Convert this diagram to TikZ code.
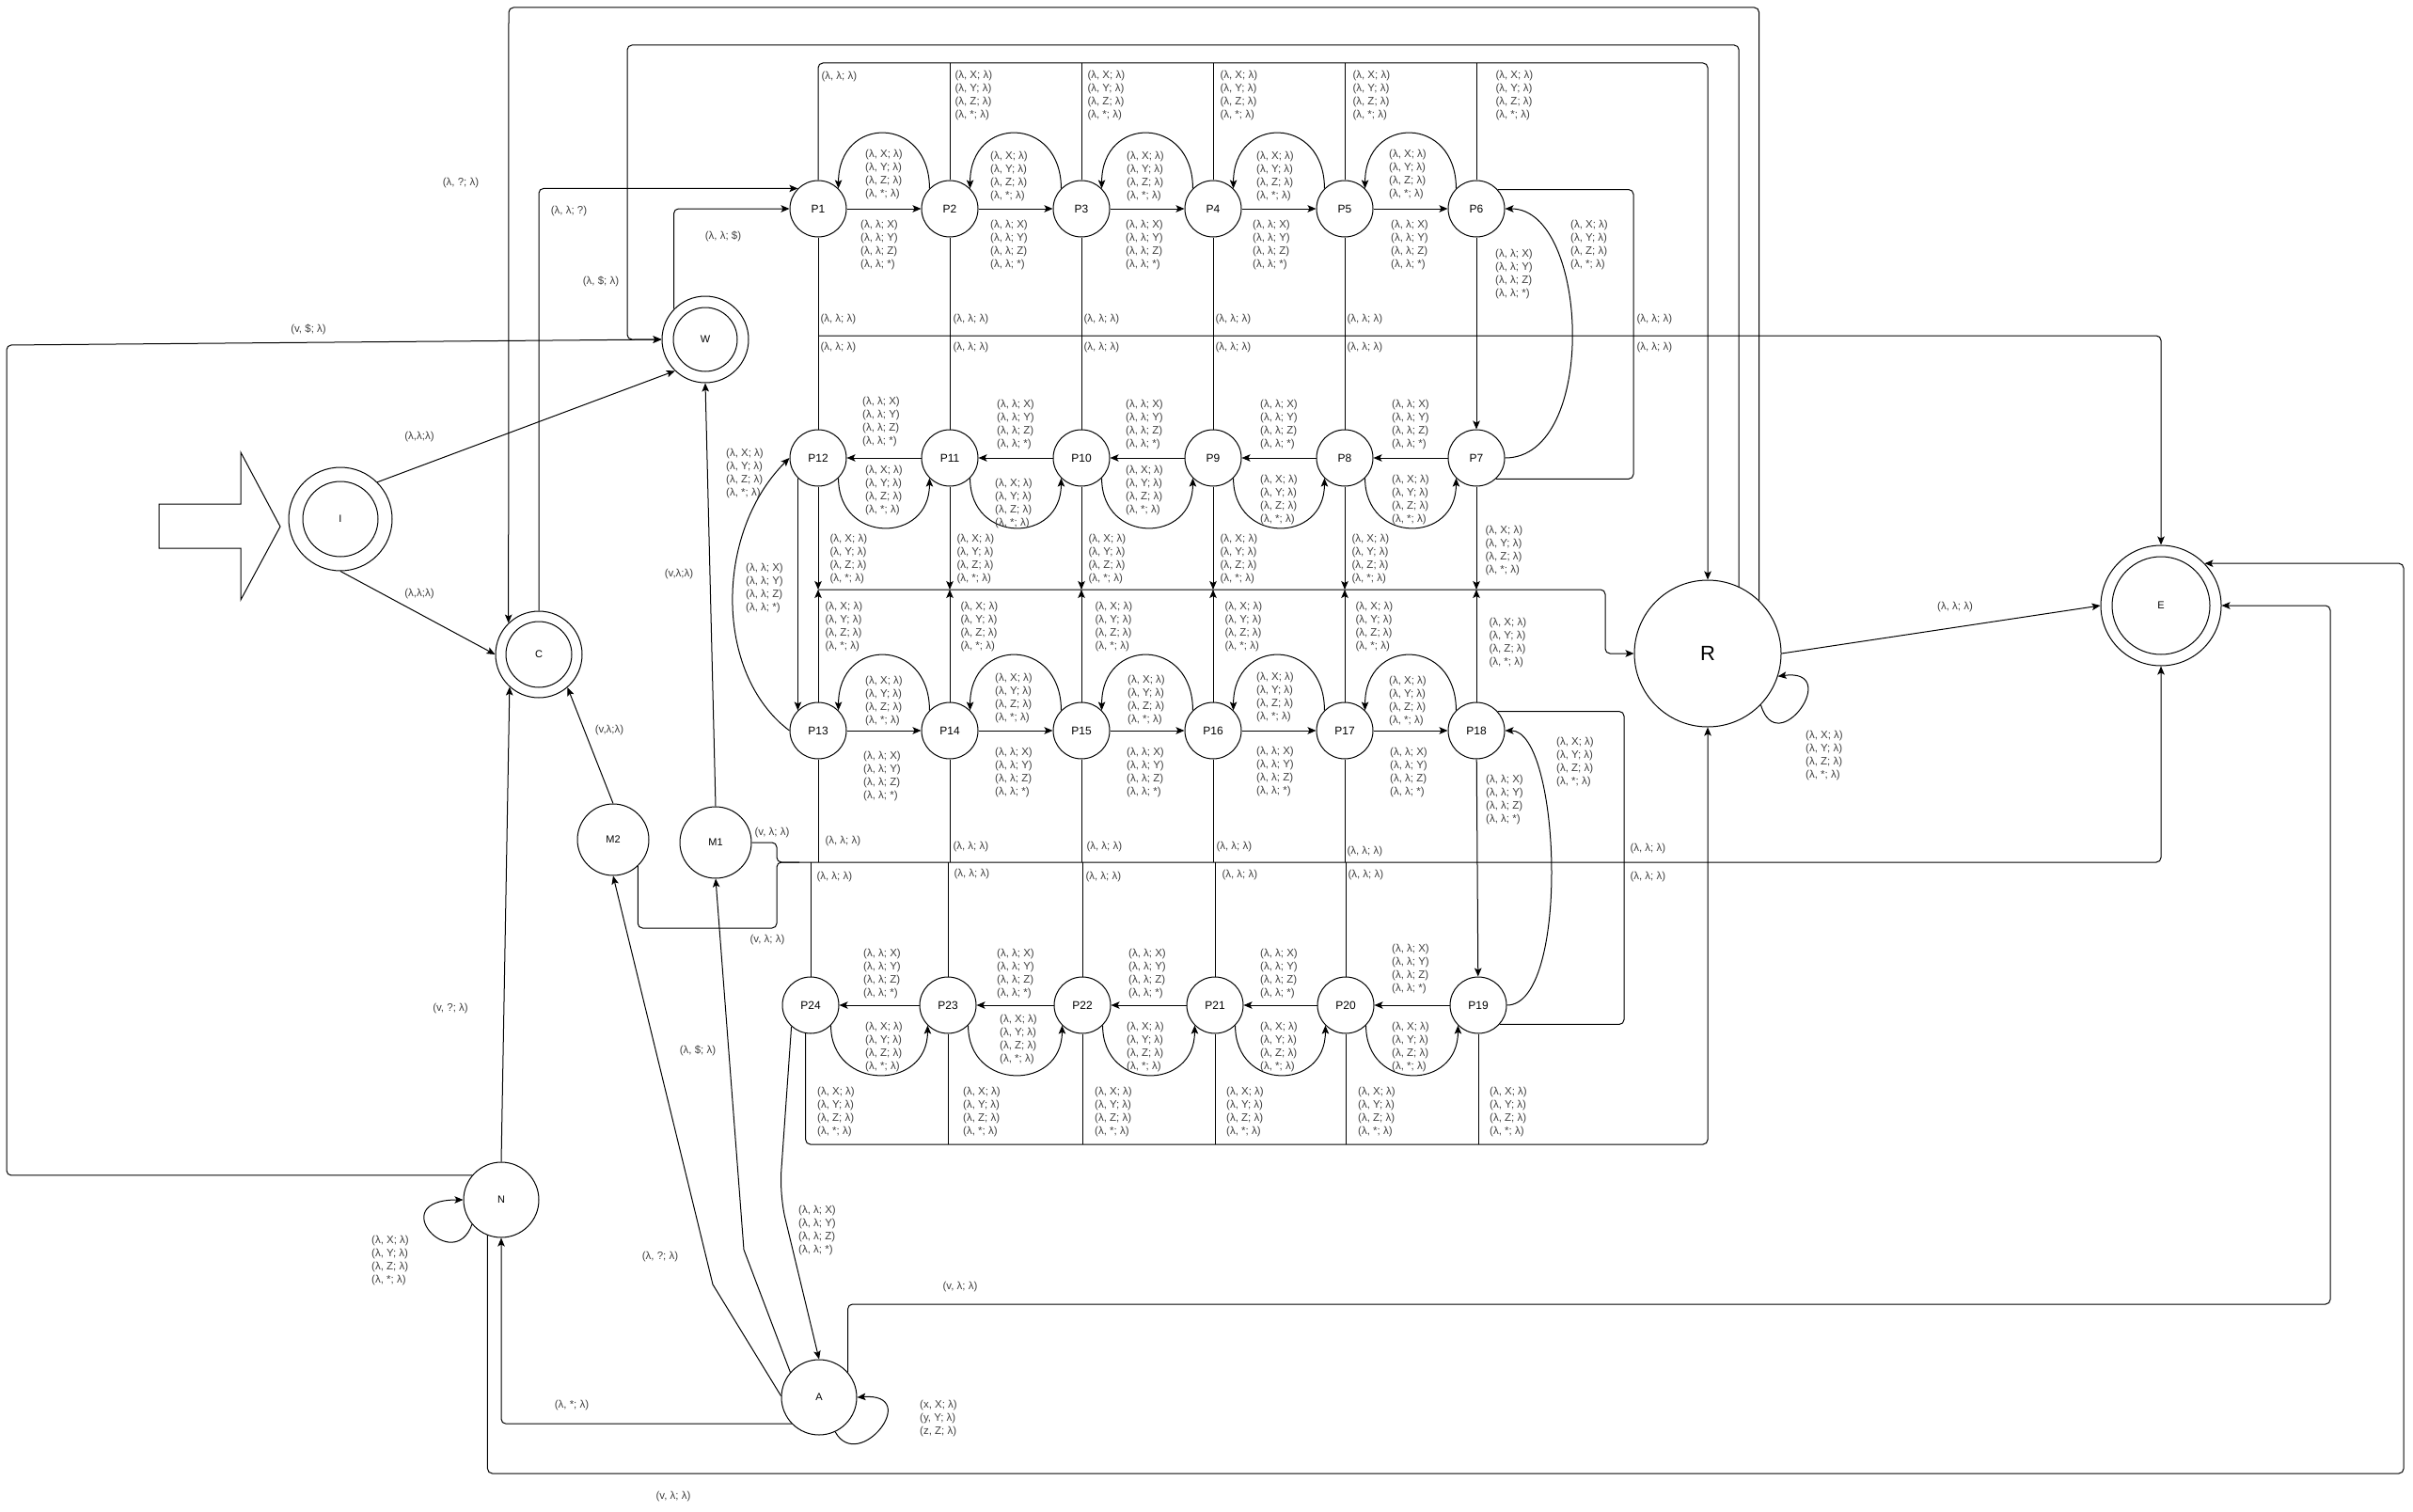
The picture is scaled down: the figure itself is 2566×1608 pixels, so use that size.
\documentclass[tikz,border=0pt]{standalone}
\usepackage{fontspec}
\setmainfont{Liberation Sans}
\usetikzlibrary{arrows.meta}
\newcommand\popL{(λ, X; λ)\\(λ, Y; λ)\\(λ, Z; λ)\\(λ, *; λ)}
\newcommand\pushL{(λ, λ; X)\\(λ, λ; Y)\\(λ, λ; Z)\\(λ, λ; *)}
\newcommand\lamL{(λ, λ; λ)}
\begin{document}
\begin{tikzpicture}[x=1pt,y=-1pt,line width=1pt,
  ar/.style={-{Stealth[length=9pt,width=7.5pt,inset=2pt]}},
  pn/.style={circle,draw,minimum size=60pt,inner sep=0pt,font=\fontsize{12}{14}\selectfont},
  sn/.style={circle,draw,inner sep=0pt,font=\fontsize{11}{13}\selectfont},
  lb/.style={font=\fontsize{11.5}{14}\selectfont,text=black!75,align=left,inner sep=0pt},
  rc/.style={rounded corners=5pt}]
\fill[white] (0,0) rectangle (2566,1608);
\useasboundingbox (0,0) rectangle (2566,1608);

% ---------- P nodes ----------
\foreach \n/\x in {P1/870,P2/1010,P3/1150,P4/1290,P5/1430,P6/1570} \node[pn] (\n) at (\x,222) {\n};
\foreach \n/\x in {P12/870,P11/1010,P10/1150,P9/1290,P8/1430,P7/1570} \node[pn] (\n) at (\x,487) {\n};
\foreach \n/\x in {P13/870,P14/1010,P15/1150,P16/1290,P17/1430,P18/1570} \node[pn] (\n) at (\x,777) {\n};
\foreach \n/\x in {P24/862,P23/1008,P22/1151,P21/1292,P20/1431,P19/1572} \node[pn] (\n) at (\x,1069) {\n};

% ---------- other states ----------
\node[circle,draw,minimum size=156pt,inner sep=0pt,font=\fontsize{22}{24}\selectfont] (R) at (1816,695) {R};
\node[sn,minimum size=128pt] (E) at (2298,644) {E};
\draw (E) circle[radius=52pt];
\node[sn,minimum size=92pt] (W) at (750,361) {W};
\draw (W) circle[radius=34pt];
\node[sn,minimum size=92pt] (C) at (573,696) {C};
\draw (C) circle[radius=35pt];
\node[sn,minimum size=110pt] (I) at (362,552) {I};
\draw (I) circle[radius=40pt];
\node[sn,minimum size=80pt] (N) at (533,1276) {N};
\node[sn,minimum size=80pt] (A) at (871,1486) {A};
\node[sn,minimum size=76pt] (M2) at (652,893) {M2};
\node[sn,minimum size=76pt] (M1) at (761,896) {M1};

% start arrow
\draw (169,536) -- (256,536) -- (256,481) -- (298,560) -- (256,638) -- (256,583) -- (169,583) -- cycle;

% ---------- row edges ----------
\foreach \a/\b in {P1/P2,P2/P3,P3/P4,P4/P5,P5/P6,P7/P8,P8/P9,P9/P10,P10/P11,P11/P12,P13/P14,P14/P15,P15/P16,P16/P17,P17/P18,P19/P20,P20/P21,P21/P22,P22/P23,P23/P24}
  \draw[ar] (\a) -- (\b);
\foreach \a/\b in {P2/P1,P3/P2,P4/P3,P5/P4,P6/P5,P14/P13,P15/P14,P16/P15,P17/P16,P18/P17}
  \draw[ar] (\a.135) .. controls +(0,-78) and +(0,-78) .. (\b.45);
\foreach \a/\b in {P12/P11,P11/P10,P10/P9,P9/P8,P8/P7,P24/P23,P23/P22,P22/P21,P21/P20,P20/P19}
  \draw[ar] (\a.-45) .. controls +(0,70) and +(0,70) .. (\b.-135);

% ---------- top line to R ----------
\draw[ar,rc] (P1.north) |- (1816,67) -- (R.north);
\foreach \p/\x in {P2/1010,P3/1150,P4/1290,P5/1430,P6/1570} \draw (\p.north) -- (\x,67);

% ---------- line y=357 to E ----------
\foreach \p/\x in {P1/870,P2/1010,P3/1150,P4/1290,P5/1430,P12/870,P11/1010,P10/1150,P9/1290,P8/1430}
  \draw (\p) -- (\x,357);
\draw[ar,rc] (870,357) -| (E.north);
\draw[rc] (P6.42) -| (1737,357) |- (P7.-47);
\draw[ar] (P6) -- (P7);
\draw[ar] (P7.east) .. controls (1700,487) and (1690,222) .. (P6.east);

% ---------- line y=627 to R ----------
\foreach \p/\x in {P12/870,P11/1010,P10/1150,P9/1290,P8/1430,P7/1570,P13/870,P14/1010,P15/1150,P16/1290,P17/1430,P18/1570}
  \draw[ar] (\p) -- (\x,627);
\draw[ar,rc] (870,627) -- (1707,627) |- (R.west);
\draw[ar] (P12.225) -- (P13.135);
\draw[ar] (P13.west) .. controls +(-80,-60) and +(-80,80) .. (P12.west);

% ---------- line y=917 to E ----------
\foreach \p/\x in {P13/870,P14/1010,P15/1150,P16/1290,P17/1430,P24/862,P23/1008,P22/1151,P21/1292,P20/1431}
  \draw (\p) -- (\x,917);
\draw[ar,rc] (M1.east) -| (826,917) -| (E.south);
\draw[rc] (M2.-47) |- (826,987) -- (826,917) -- (850,917);
\draw[rc] (P18.42) -| (1727,917) |- (P19.-42);
\draw[ar] (P18) -- (P19);
\draw[ar] (P19.east) .. controls (1670,1069) and (1660,777) .. (P18.east);

% ---------- line y=1217 to R ----------
\draw[ar,rc] (P24.-100) |- (1816,1217) -- (R.south);
\foreach \p/\x in {P23/1008,P22/1151,P21/1292,P20/1431,P19/1572} \draw (\p) -- (\x,1217);

% ---------- outer edges ----------
\draw[ar,rc] (R.65) |- (667,48) |- (W.west);
\draw[ar,rc] (R.46) |- (541,8) -- (C.134);
\draw[ar,rc] (C.north) |- (P1.135);
\draw[ar,rc] (W.136) |- (P1.west);
\draw[ar] (I.45) -- (W.226);
\draw[ar] (I.south) -- (C.west);
\draw[ar] (M2.north) -- (C.-49);
\draw[ar] (M1.north) -- (W.south);
\draw[ar] (R.east) -- (E.west);
\draw[ar] (R.-44) .. controls (1890,810) and (1960,710) .. (R.-18);
\draw[ar,rc] (N.140) -| (7,367) -- (W.west);
\draw[ar] (N.north) -- (C.-132);
\draw[ar] (N.220) .. controls +(-20,55) and +(-85,0) .. (N.west);
\draw[ar,rc] (N.-111) |- (2556,1567) |- (E.44);
\draw[ar,rounded corners=25pt] (P24.-132) -- (829,1271) -- (A.north);
\draw[ar] (A.178) -- (758,1366) -- (M2.south);
\draw[ar] (A.139) -- (791,1329) -- (M1.south);
\draw[ar,rc] (A.-136) -| (N.south);
\draw[ar,rc] (A.41) |- (2478,1387) |- (E.east);
\draw[ar] (A.-65) .. controls +(25,45) and +(70,-5) .. (A.east);

% ---------- labels ----------
\node[lb,anchor=west] (t1) at (873,82) {\lamL};
\foreach \x [count=\i] in {1015,1156,1297,1438,1590} \node[lb,anchor=west] (ta\i) at (\x,102) {\popL};
\foreach \x/\y [count=\i] in {935/261,1073/261,1217/261,1352/261,1499/261,1610/292} \node[lb] (ra\i) at (\x,\y) {\pushL};
\foreach \x/\y [count=\i] in {940/186,1073/188,1218/188,1356/188,1497/186,1690/261} \node[lb] (rb\i) at (\x,\y) {\popL};
\foreach \x/\y [count=\i] in {872/340,1013/340,1152/340,1292/340,1432/340,1740/340,872/370,1013/370,1152/370,1292/370,1432/370,1740/370}
  \node[lb,anchor=west] (la\i) at (\x,\y) {\lamL};
\foreach \x/\y [count=\i] in {937/449,1080/452,1217/452,1360/452,1500/452,813/626} \node[lb] (rc\i) at (\x,\y) {\pushL};
\foreach \x/\y [count=\i] in {940/522,1078/536,1217/522,1360/532,1500/532,792/504} \node[lb] (rd\i) at (\x,\y) {\popL};
\foreach \x/\y [count=\i] in {882/595,1017/595,1157/595,1297/595,1437/595,1579/586,877/667,1021/667,1164/667,1302/667,1441/667,1583/684}
  \node[lb,anchor=west] (lc\i) at (\x,\y) {\popL};
\foreach \x/\y [count=\i] in {940/746,1078/743,1219/745,1356/742,1497/746,1675/811} \node[lb] (re\i) at (\x,\y) {\popL};
\foreach \x/\y [count=\i] in {938/826,1078/822,1218/822,1356/821,1498/822,1600/851} \node[lb] (rf\i) at (\x,\y) {\pushL};
\foreach \x/\y [count=\i] in {877/895,1013/901,1155/901,1293/901,1432/906,1733/903,868/933,1014/930,1154/933,1299/931,1433/931,1733/933}
  \node[lb,anchor=west] (ld\i) at (\x,\y) {\lamL};
\foreach \x/\y [count=\i] in {938/1036,1080/1036,1220/1036,1360/1036,1500/1031,869/1309} \node[lb] (rg\i) at (\x,\y) {\pushL};
\foreach \x/\y [count=\i] in {940/1114,1083/1106,1218/1114,1360/1114,1500/1114} \node[lb] (rh\i) at (\x,\y) {\popL};
\foreach \x [count=\i] in {889,1044,1184,1324,1464,1604} \node[lb] (ri\i) at (\x,1183) {\popL};
\node[lb] (re0) at (2079,646) {\lamL};
\node[lb] (rl) at (1940,804) {\popL};
\node[lb] (nl) at (415,1341) {\popL};
\node[lb] (al) at (998,1509) {(x, X; λ)\\(y, Y; λ)\\(z, Z; λ)};
\node[lb] (m1) at (490,195) {(λ, ?; λ)};
\node[lb] (m2) at (605,225) {(λ, λ; ?)};
\node[lb] (m3) at (639,299) {(λ, \$; λ)};
\node[lb] (m4) at (769,251) {(λ, λ; \$)};
\node[lb] (m5) at (328,350) {(v, \$; λ)};
\node[lb] (m6) at (446,465) {(λ,λ;λ)};
\node[lb] (m7) at (446,632) {(λ,λ;λ)};
\node[lb] (m8) at (722,611) {(v,λ;λ)};
\node[lb] (m9) at (648,777) {(v,λ;λ)};
\node[lb] (m10) at (821,886) {(v, λ; λ)};
\node[lb] (m11) at (816,1000) {(v, λ; λ)};
\node[lb] (m12) at (479,1073) {(v, ?; λ)};
\node[lb] (m13) at (742,1117) {(λ, \$; λ)};
\node[lb] (m14) at (702,1337) {(λ, ?; λ)};
\node[lb] (m15) at (608,1495) {(λ, *; λ)};
\node[lb] (m16) at (1021,1369) {(v, λ; λ)};
\node[lb] (m17) at (716,1592) {(v, λ; λ)};
\end{tikzpicture}
\end{document}
